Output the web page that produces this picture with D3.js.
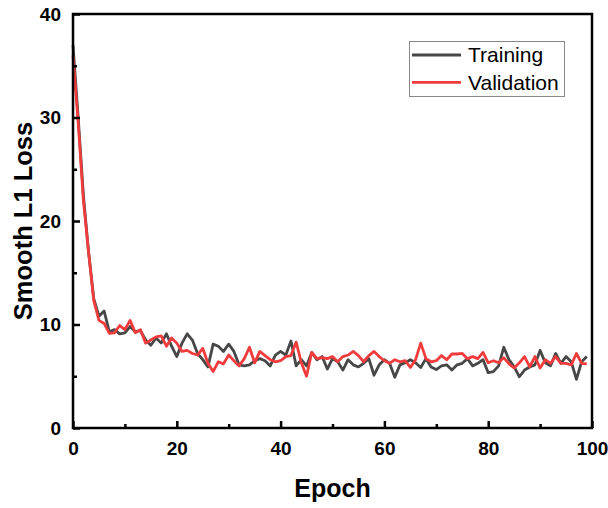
<!DOCTYPE html>
<html><head><meta charset="utf-8">
<script src="https://cdn.jsdelivr.net/npm/d3@7"></script>
<style>html,body{margin:0;padding:0;background:#fff;}svg{display:block;}</style>
</head><body>
<script>
const epochs = d3.range(0, 100);
const training = [37,30,22.5,17,12.5,10.8,11.3,9.3,9.5,9.1,
  9.2,9.8,9.3,9.4,8.5,8.0,8.7,8.2,9.1,7.9,
  6.9,8.2,9.1,8.5,7.2,6.6,5.9,8.1,7.9,7.4,
  8.1,7.4,6.1,6.0,6.1,6.5,6.7,6.5,6.0,7.05,
  7.4,7.05,8.4,6.0,6.6,6.0,7.3,6.6,6.9,5.7,
  6.7,6.4,5.6,6.6,6.1,5.9,6.25,6.7,5.1,6.1,
  6.6,6.25,4.9,6.1,6.3,6.6,6.3,5.85,6.7,5.9,
  5.65,6.0,6.1,5.6,6.1,6.25,6.7,6.0,6.25,6.6,
  5.35,5.45,6.0,7.8,6.6,5.9,4.95,5.6,5.9,6.1,
  7.5,6.3,6.0,7.2,6.25,6.9,6.4,4.7,6.4,6.9];
const validation = [36,29.5,22,17,12.3,10.4,10.1,9.15,9.2,9.9,
  9.5,10.4,9.2,9.5,8.2,8.5,8.8,8.9,7.9,8.7,
  8.2,7.4,7.5,7.2,7.05,7.7,6.25,5.45,6.4,6.2,
  7.05,6.5,6.0,6.7,7.8,6.3,7.4,7.0,6.6,6.4,
  6.5,6.9,7.0,8.3,6.3,5.0,7.3,6.7,6.8,6.7,
  6.9,6.4,6.9,7.05,7.4,7.0,6.4,7.0,7.4,6.9,
  6.5,6.25,6.6,6.4,6.5,5.85,6.6,8.2,6.7,6.4,
  6.5,7.0,6.6,7.15,7.15,7.2,6.7,6.9,6.7,7.3,
  6.3,6.5,6.3,6.8,6.2,5.8,6.3,6.9,5.9,6.9,
  5.8,6.6,6.25,6.9,6.25,6.25,6.1,7.2,6.25,6.2];
const xTicks = [0,20,40,60,80,100];
const xMinor = [10,30,50,70,90];
const yTicks = [0,10,20,30,40];
const yMinor = [5,15,25,35];
const seriesNames = ["Training","Validation"];
const seriesColors = ["#474747","#f03c3c"];

const W = 608, H = 508;
const L = 73, R = 592, T = 14, B = 428;
const svg = d3.select("body").append("svg").attr("width", W).attr("height", H);
const x = d3.scaleLinear().domain([0,100]).range([L,R]);
const y = d3.scaleLinear().domain([0,40]).range([B,T]);
const font = "'Liberation Sans', Arial, sans-serif";

// series
const line = d3.line().x((d,i)=>x(epochs[i])).y(d=>y(d));
[training, validation].forEach((s,k)=>{
  svg.append("path").datum(s).attr("d", line).attr("fill","none")
    .attr("stroke", seriesColors[k]).attr("stroke-width", 2.8).attr("stroke-linejoin","round");
});

// frame
svg.append("rect").attr("x",L).attr("y",T).attr("width",R-L).attr("height",B-T)
  .attr("fill","none").attr("stroke","#000").attr("stroke-width",2.5);

// x axis
const xAxis = svg.append("g").attr("transform",`translate(0,${B})`)
  .call(d3.axisBottom(x).tickValues(xTicks).tickSizeInner(-7).tickSizeOuter(0).tickPadding(14));
xAxis.select(".domain").remove();
xAxis.selectAll(".tick line").attr("stroke-width",2.5);
xAxis.selectAll("text").attr("font-family",font).attr("font-weight","bold").attr("font-size",19).attr("fill","#000");
const xAxisMinor = svg.append("g").attr("transform",`translate(0,${B})`)
  .call(d3.axisBottom(x).tickValues(xMinor).tickSizeInner(-4).tickSizeOuter(0).tickFormat(""));
xAxisMinor.select(".domain").remove();
xAxisMinor.selectAll(".tick line").attr("stroke-width",2.5);

// y axis
const yAxis = svg.append("g").attr("transform",`translate(${L},0)`)
  .call(d3.axisLeft(y).tickValues(yTicks).tickSizeInner(-7).tickSizeOuter(0).tickPadding(12));
yAxis.select(".domain").remove();
yAxis.selectAll(".tick line").attr("stroke-width",2.5);
yAxis.selectAll("text").attr("font-family",font).attr("font-weight","bold").attr("font-size",19).attr("fill","#000");
const yAxisMinor = svg.append("g").attr("transform",`translate(${L},0)`)
  .call(d3.axisLeft(y).tickValues(yMinor).tickSizeInner(-4).tickSizeOuter(0).tickFormat(""));
yAxisMinor.select(".domain").remove();
yAxisMinor.selectAll(".tick line").attr("stroke-width",2.5);

// titles
svg.append("text").attr("x",(L+R)/2).attr("y",497).attr("text-anchor","middle")
  .attr("font-family",font).attr("font-weight","bold").attr("font-size",25).text("Epoch");
svg.append("text").attr("transform",`translate(32,${(T+B)/2}) rotate(-90)`).attr("text-anchor","middle")
  .attr("font-family",font).attr("font-weight","bold").attr("font-size",25.5).text("Smooth L1 Loss");

// legend
const lg = svg.append("g");
lg.append("rect").attr("x",409.5).attr("y",41.5).attr("width",155).attr("height",55)
  .attr("fill","#fff").attr("stroke","#888").attr("stroke-width",1);
seriesNames.forEach((n,k)=>{
  const yy = 55 + k*27.3;
  lg.append("line").attr("x1",412).attr("x2",461).attr("y1",yy).attr("y2",yy)
    .attr("stroke",seriesColors[k]).attr("stroke-width",2.8);
  lg.append("text").attr("x",468).attr("y",yy).attr("dy","0.35em")
    .attr("font-family",font).attr("font-size",21).attr("fill","#000").text(n);
});
</script>
</body></html>
